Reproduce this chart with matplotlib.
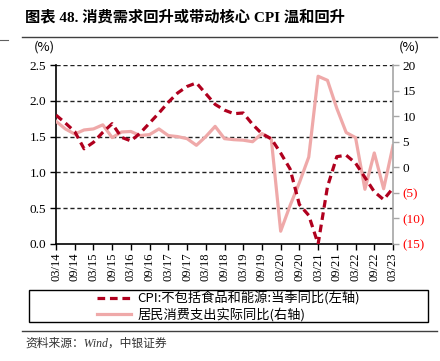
import matplotlib
matplotlib.use("Agg")
import matplotlib.pyplot as plt
from matplotlib.lines import Line2D
from matplotlib.patches import Rectangle
from matplotlib.ticker import FuncFormatter

SERIF = ["Liberation Serif", "Noto Sans CJK SC"]
CJK = ["Noto Sans CJK SC", "DejaVu Sans"]

# quarterly, 2014Q1 .. 2023Q1
quarters = [f"{m:02d}/{y % 100:02d}" for y in range(2014, 2024) for m in (3, 6, 9, 12)][:37]

core_cpi = [1.80, 1.69, 1.57, 1.33, 1.42, 1.56, 1.68, 1.49, 1.44, 1.55,
            1.69, 1.83, 1.98, 2.11, 2.20, 2.25, 2.10, 1.95, 1.87, 1.82,
            1.83, 1.67, 1.54, 1.47, 1.27, 1.05, 0.55, 0.40, 0.00, 0.80,
            1.22, 1.24, 1.13, 0.93, 0.73, 0.62, 0.78]

consumption = [9.0, 7.5, 6.5, 7.3, 7.5, 8.3, 5.8, 6.9, 7.0, 6.2,
               6.4, 7.5, 6.2, 6.0, 5.6, 4.3, 6.0, 8.0, 5.6, 5.4,
               5.3, 5.0, 6.6, 5.5, -12.5, -7.5, -3.0, 2.0, 17.8, 17.0,
               11.5, 6.8, 5.8, -4.3, 2.8, -4.2, 4.2]

left_ticks = [0.0, 0.5, 1.0, 1.5, 2.0, 2.5]
right_ticks = [-15, -10, -5, 0, 5, 10, 15, 20]

RED = "#B0001E"
PINK = "#EFA9A9"

x = list(range(len(quarters)))

fig = plt.figure(figsize=(4.4, 3.61), dpi=100)
ax = fig.add_axes([56 / 440, 1 - 244 / 361, (393 - 56) / 440, (244 - 65) / 361])
ax2 = ax.twinx()

for v in left_ticks[1:]:
    ax.axhline(v, color="#222222", lw=1.0, ls=(0, (3, 2)), zorder=1)

ax2.plot(x, consumption, color=PINK, lw=2.3, solid_joinstyle="round", zorder=2)
# CPI on the left scale, drawn in the twin axes so it sits above the pink line
ax2.plot(x, core_cpi, color=RED, lw=2.3, ls=(0, (2.4, 1.5)), dash_capstyle="butt",
         transform=ax.transData, zorder=3)

ax.set_xlim(0, len(quarters) - 1)
ax.set_ylim(0, 2.5)
ax2.set_ylim(-15, 20)

ax.set_yticks(left_ticks)
ax.yaxis.set_major_formatter(FuncFormatter(lambda v, p: f"{v:.1f}"))
ax2.set_yticks(right_ticks)
ax2.yaxis.set_major_formatter(FuncFormatter(lambda v, p: f"({abs(int(v))})" if v < 0 else f"{int(v)}"))
for lab, v in zip(ax2.get_yticklabels(), right_ticks):
    lab.set_color("#FF0000" if v < 0 else "black")

ax.set_xticks(x[::2])
ax.set_xticklabels(quarters[::2], rotation=90)

for a in (ax, ax2):
    a.spines["top"].set_visible(False)
ax.spines["right"].set_visible(False)
ax2.spines["left"].set_visible(False)
ax2.spines["bottom"].set_visible(False)
ax2.spines["right"].set_color("#A6A6A6")
ax2.spines["right"].set_linewidth(1.2)
ax.spines["left"].set_linewidth(1.2)
ax.spines["bottom"].set_linewidth(1.2)

ax.tick_params(axis="both", direction="out", length=4, width=1.0, labelsize=9.5, pad=3)
ax.tick_params(axis="x", labelsize=9, pad=2)
ax2.tick_params(axis="y", direction="out", length=4, width=1.0, color="#A6A6A6", labelsize=9.5, pad=3)
for lab in ax.get_xticklabels() + ax.get_yticklabels() + ax2.get_yticklabels():
    lab.set_family(SERIF)

# header, source and page rules
fig.text(25 / 440, 1 - 17 / 361, "图表 48. 消费需求回升或带动核心 CPI 温和回升", family=SERIF,
         fontweight="bold", fontsize=11, va="center", ha="left")
fig.add_artist(Line2D([22 / 440, 437 / 440], [1 - 37 / 361] * 2, color="#404040", lw=1.0))
fig.add_artist(Line2D([0, 8 / 440], [1 - 40 / 361] * 2, color="#606060", lw=0.8))
fig.add_artist(Line2D([22 / 440, 437 / 440], [1 - 331 / 361] * 2, color="#404040", lw=1.0))
fig.text(34 / 440, 1 - 47 / 361, "(%)", family=CJK, fontsize=9.5, va="center", ha="left")
fig.text(399 / 440, 1 - 47 / 361, "(%)", family=CJK, fontsize=9.5, va="center", ha="left")
fig.text(25 / 440, 1 - 344 / 361, "资料来源：Wind，中银证券", family=SERIF, style="italic",
         fontsize=8.5, va="center", ha="left", color="#333333")

# legend box below the plot
fig.add_artist(Rectangle((29 / 440, 1 - 322 / 361), (428 - 29) / 440, (322 - 290) / 361,
                         transform=fig.transFigure, fill=False, edgecolor="black", lw=1.0))
handles = [Line2D([], [], color=RED, lw=2.3, ls=(0, (2.4, 1.5))),
           Line2D([], [], color=PINK, lw=2.3)]
labels = ["CPI:不包括食品和能源:当季同比(左轴)", "居民消费支出实际同比(右轴)"]
leg = fig.legend(handles, labels, loc="center", bbox_to_anchor=(228.5 / 440, 1 - 306.5 / 361),
                 frameon=False, handlelength=2.6, handletextpad=0.5,
                 labelspacing=0.2, borderpad=0, prop={"family": CJK, "size": 9.5})
leg._legend_box.align = "left"

fig.savefig("out.png", dpi=100)
